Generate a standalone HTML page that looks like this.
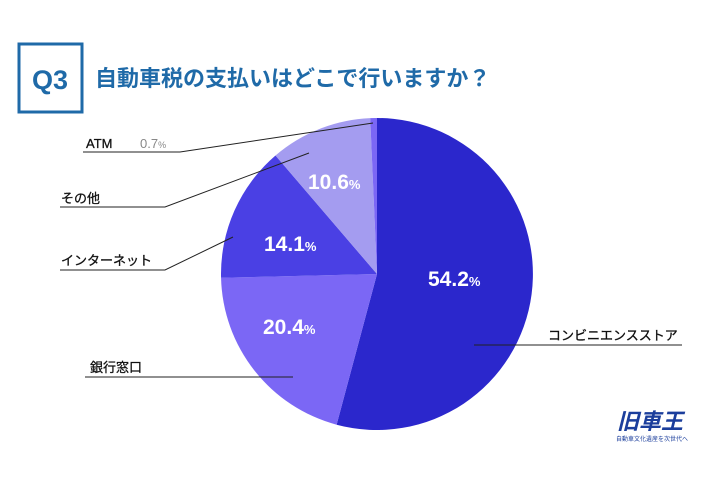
<!DOCTYPE html>
<html><head><meta charset="utf-8"><style>
body{margin:0;width:710px;height:474px;background:#fff;overflow:hidden;font-family:"Liberation Sans","Noto Sans CJK JP",sans-serif;}
</style></head><body>
<svg width="710" height="474" viewBox="0 0 710 474" xmlns="http://www.w3.org/2000/svg" font-family="Liberation Sans, Noto Sans CJK JP, sans-serif">
<rect x="19" y="44" width="63" height="68" fill="none" stroke="#1f6aa8" stroke-width="3"/>
<text x="50" y="89" text-anchor="middle" font-size="27" font-weight="bold" fill="#1f6aa8">Q3</text>
<text x="95" y="86" font-size="22" font-weight="bold" fill="#1f6aa8">自動車税の支払いはどこで行いますか？</text>
<g transform="translate(377,274)">
<path d="M0,0 L0,-156 A156,156 0 1 1 -40.4,150.7 Z" fill="#2b27cc"/>
<path d="M0,0 L-40.4,150.7 A156,156 0 0 1 -155.95,3.8 Z" fill="#7b67f5"/>
<path d="M0,0 L-155.95,3.8 A156,156 0 0 1 -101.5,-118.5 Z" fill="#4a40e4"/>
<path d="M0,0 L-101.5,-118.5 A156,156 0 0 1 -6.8,-155.85 Z" fill="#a49cf0"/>
<path d="M0,0 L-6.8,-155.85 A156,156 0 0 1 0,-156 Z" fill="#7b67f5"/>
</g>
<g stroke="#222" stroke-width="1" fill="none">
<polyline points="83,152 180,152 373,123"/>
<polyline points="60,207 165,207 309,153"/>
<polyline points="60,270 165,270 233,237"/>
<line x1="85" y1="377" x2="293" y2="377"/>
<line x1="474" y1="345" x2="682" y2="345"/>
</g>
<g font-size="13" fill="#111" stroke="#111" stroke-width="0.3">
<text x="86" y="148">ATM</text>
<text x="140" y="148" fill="#888" stroke="none">0.7<tspan font-size="9">%</tspan></text>
<text x="61" y="203">その他</text>
<text x="61" y="265">インターネット</text>
<text x="90" y="372">銀行窓口</text>
<text x="548" y="340">コンビニエンスストア</text>
</g>
<g font-size="21" font-weight="bold" fill="#fff">
<text x="308" y="189">10.6<tspan font-size="13">%</tspan></text>
<text x="264" y="251">14.1<tspan font-size="13">%</tspan></text>
<text x="428" y="286">54.2<tspan font-size="13">%</tspan></text>
<text x="263" y="334">20.4<tspan font-size="13">%</tspan></text>
</g>
<text x="617" y="429" font-size="22" font-weight="bold" fill="#1b3e9c" font-style="italic">旧車王</text>
<text x="616" y="441" font-size="6" fill="#1b3e9c">自動車文化遺産を次世代へ</text>
</svg>
</body></html>
